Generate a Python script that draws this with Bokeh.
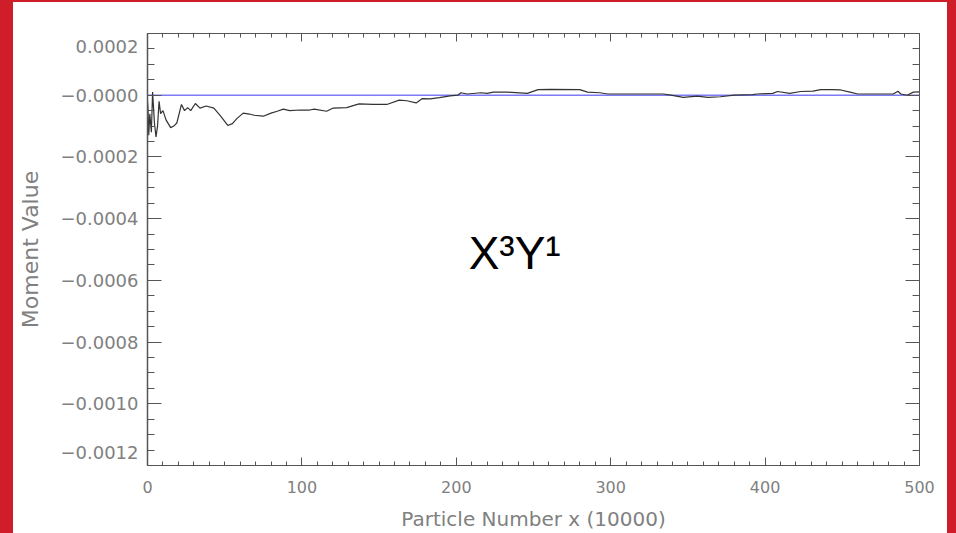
from bokeh.plotting import figure
from bokeh.models import (Label, LinearAxis, SingleIntervalTicker, FixedTicker, Range1d,
                          Div, CustomJSTickFormatter)
from bokeh.layouts import row, column
from bokeh.embed import file_html
from bokeh.resources import INLINE

# Running moment estimate vs. particle count (units of 10000 particles)
particles = [0, 0.3, 0.8, 1.5, 2.5, 3.3, 4.5, 5.5, 6.5, 7.5, 8.5, 10, 12, 15, 17, 19,
             22, 24, 26, 28, 31, 34, 38, 43, 47, 52, 55, 58, 62, 66, 69, 75, 80, 84,
             88, 92, 99, 105, 108, 116, 120, 129, 137, 146, 155, 163, 168, 174, 178,
             183, 189, 196, 201, 203, 207, 216, 220, 224, 233, 246, 253, 261, 280,
             285, 293, 298, 315, 334, 339, 347, 356, 363, 371, 380, 392, 395, 405,
             408, 416, 423, 431, 436, 444, 449, 455, 460, 470, 483, 486, 488, 492,
             496, 500]
moment = [-0.00002, -0.00004, -0.00013, -0.00006, -0.00012, 0.00001, -0.00009,
          -0.000135, -0.00010, -0.00002, -0.00006, -0.00005, -0.00008, -0.000105,
          -0.00010, -0.00009, -0.00003, -0.00005, -0.00004, -0.00005, -0.000027,
          -0.000042, -0.000035, -0.000042, -0.000065, -0.000098, -0.000092,
          -0.000075, -0.000058, -0.000061, -0.000065, -0.000068, -0.000058,
          -0.000052, -0.000045, -0.00005, -0.000048, -0.000048, -0.000045,
          -0.000052, -0.000042, -0.00004, -0.000028, -0.00003, -0.00003, -0.000016,
          -0.000018, -0.000025, -0.000011, -0.000012, -0.000008, -0.000002, 0.0,
          0.000008, 0.000004, 0.000008, 0.000006, 0.00001, 0.00001, 0.000006,
          0.000018, 0.000019, 0.000018, 0.00001, 0.000008, 0.000004, 0.000004,
          0.000004, 0.0, -0.000007, -0.000003, -0.000007, -0.000005, 0.0, 0.000002,
          0.000004, 0.000006, 0.000012, 0.000006, 0.000012, 0.000013, 0.000018,
          0.000018, 0.000017, 0.00001, 0.000004, 0.000004, 0.000004, 0.000013,
          0.000004, 0.0, 0.00001, 0.000011]
reference_level = [0.0, 0.0]
reference_x = [0, 500]

x_major = 100
y_ticks = [-0.0012, -0.0010, -0.0008, -0.0006, -0.0004, -0.0002, 0.0, 0.0002]
y_minor_step = 0.00005

RED = "#cf1e29"
AXIS = "#555555"
TEXT = "#808080"
FONT = "DejaVu Sans"

y_lo, y_hi = y_ticks[0], y_ticks[-1]
n_minor = int(round((y_hi - y_lo) / y_minor_step))
y_minor = [y_lo + i * y_minor_step for i in range(n_minor + 1)]

p = figure(frame_width=772, frame_height=432,
           x_range=Range1d(0, 500), y_range=Range1d(y_lo - 1e-12, y_hi + 1e-12),
           output_backend="svg", toolbar_location=None,
           min_border_left=134, min_border_right=28,
           min_border_top=31, min_border_bottom=68,
           background_fill_color="white", border_fill_color="white",
           outline_line_color=AXIS)
p.grid.visible = False

blank = "return ''"

# bottom axis with labels
xa = p.xaxis[0]
xa.ticker = SingleIntervalTicker(interval=x_major, num_minor_ticks=10)
xa.major_tick_in, xa.major_tick_out = 8, 0
xa.minor_tick_in, xa.minor_tick_out = 4, 0
xa.axis_line_color = AXIS
xa.major_tick_line_color = AXIS
xa.minor_tick_line_color = AXIS
xa.major_label_text_font = FONT
xa.major_label_text_font_size = "16px"
xa.major_label_text_color = TEXT
xa.major_label_standoff = 15
xa.axis_label = "Particle Number x (10000)"
xa.axis_label_text_font = FONT
xa.axis_label_text_font_size = "20px"
xa.axis_label_text_font_style = "normal"
xa.axis_label_text_color = TEXT
xa.axis_label_standoff = 11

# left axis; the end labels are pushed inward with an empty line
ya = p.yaxis[0]
ya.ticker = FixedTicker(ticks=y_ticks, minor_ticks=y_minor)
ya.formatter = CustomJSTickFormatter(code="""
    const s = (tick > 1e-9 ? '' : '\\u2212') + Math.abs(tick).toFixed(4);
    if (tick > 0.00015) return '\\n' + s;
    if (tick < -0.00115) return s + '\\n';
    return s;
""")
ya.major_tick_in, ya.major_tick_out = 14, 0
ya.minor_tick_in, ya.minor_tick_out = 7, 0
ya.axis_line_color = AXIS
ya.axis_line_width = 1.5
ya.major_tick_line_color = AXIS
ya.minor_tick_line_color = AXIS
ya.major_label_text_font = FONT
ya.major_label_text_font_size = "18px"
ya.major_label_text_color = TEXT
ya.major_label_standoff = 9
ya.axis_label = "Moment Value"
ya.axis_label_text_font = FONT
ya.axis_label_text_font_size = "22px"
ya.axis_label_text_font_style = "normal"
ya.axis_label_text_color = TEXT
ya.axis_label_standoff = 14

# tick-only axes on the top and right sides
top = LinearAxis(ticker=SingleIntervalTicker(interval=x_major, num_minor_ticks=10),
                 formatter=CustomJSTickFormatter(code=blank),
                 major_tick_in=8, major_tick_out=0, minor_tick_in=4, minor_tick_out=0,
                 axis_line_color=AXIS, major_tick_line_color=AXIS,
                 minor_tick_line_color=AXIS, major_label_standoff=0)
right = LinearAxis(ticker=FixedTicker(ticks=y_ticks, minor_ticks=y_minor),
                   formatter=CustomJSTickFormatter(code=blank),
                   major_tick_in=14, major_tick_out=0, minor_tick_in=7, minor_tick_out=0,
                   axis_line_color=AXIS, major_tick_line_color=AXIS,
                   minor_tick_line_color=AXIS, major_label_standoff=0)
p.add_layout(top, "above")
p.add_layout(right, "right")

p.line(reference_x, reference_level, line_color="#7b7bf5", line_width=1.5)
p.line(particles, moment, line_color="#333333", line_width=1.2)

p.add_layout(Label(x=208, y=-0.00051, text="X\u00b3Y\u00b9",
                   text_align="left", text_baseline="alphabetic",
                   text_font="Liberation Sans", text_font_size="46px",
                   text_color="black"))

top_strip = Div(width=956, height=2, margin=0, styles={"background-color": RED})
left_strip = Div(width=13, height=531, margin=0, styles={"background-color": RED})
right_strip = Div(width=9, height=531, margin=0, styles={"background-color": RED})

layout = column(top_strip, row(left_strip, p, right_strip, spacing=0), spacing=0)

open("out.html", "w").write(file_html(layout, INLINE))
